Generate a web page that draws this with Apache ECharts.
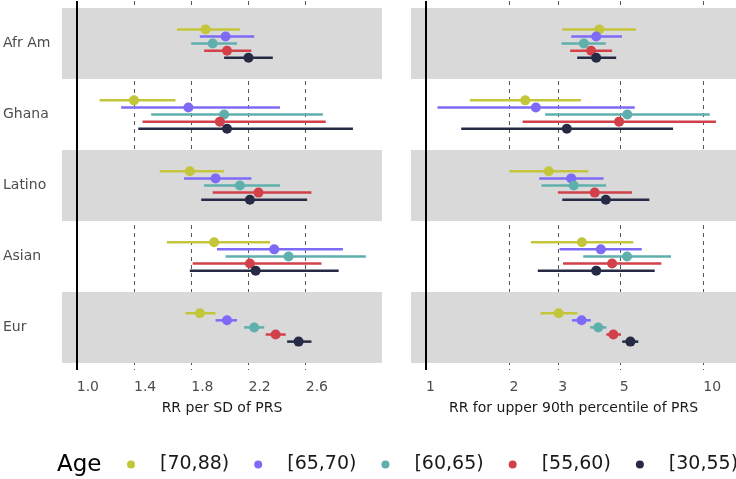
<!DOCTYPE html>
<html><head><meta charset="utf-8">
<script src="https://cdn.jsdelivr.net/npm/echarts@6/dist/echarts.min.js"></script>
<style>html,body{margin:0;padding:0;background:#fff}#c{width:736px;height:479px}</style>
</head><body><div id="c"></div>
<script>
// Categories
const groups = ['Afr Am', 'Ghana', 'Latino', 'Asian', 'Eur'];
const ages = ['[70,88)', '[65,70)', '[60,65)', '[55,60)', '[30,55)'];
// Tick labels
const sdTicks = [1.0, 1.4, 1.8, 2.2, 2.6];
const p90Ticks = [1, 2, 3, 5, 10];

// RR per SD of PRS (rows: age groups in order above; columns: groups in order above)
const sdEst = [
  [1.90, 1.40, 1.79, 1.96, 1.86],
  [2.04, 1.78, 1.97, 2.38, 2.05],
  [1.95, 2.03, 2.14, 2.48, 2.24],
  [2.05, 2.00, 2.27, 2.21, 2.39],
  [2.20, 2.05, 2.21, 2.25, 2.55]
];
const sdLo = [
  [1.70, 1.16, 1.58, 1.63, 1.76],
  [1.86, 1.31, 1.75, 1.98, 1.97],
  [1.80, 1.52, 1.89, 2.04, 2.17],
  [1.89, 1.46, 1.95, 1.81, 2.32],
  [2.03, 1.43, 1.87, 1.79, 2.47]
];
const sdHi = [
  [2.14, 1.69, 2.03, 2.35, 1.97],
  [2.24, 2.42, 2.22, 2.86, 2.12],
  [2.12, 2.72, 2.42, 3.02, 2.31],
  [2.22, 2.74, 2.64, 2.71, 2.46],
  [2.37, 2.93, 2.61, 2.83, 2.64]
];
// RR for upper 90th percentile of PRS
const p90Est = [
  [4.22, 2.28, 2.77, 3.65, 3.01],
  [4.11, 2.49, 3.34, 4.27, 3.64],
  [3.71, 5.32, 3.41, 5.31, 4.18],
  [3.94, 4.97, 4.06, 4.69, 4.74],
  [4.11, 3.22, 4.45, 4.11, 5.46]
];
const p90Lo = [
  [3.10, 1.44, 2.00, 2.39, 2.59],
  [3.34, 1.10, 2.56, 3.03, 3.36],
  [3.08, 2.69, 2.61, 3.69, 3.91],
  [3.31, 2.23, 2.99, 3.12, 4.47],
  [3.51, 1.34, 3.10, 2.53, 5.10]
];
const p90Hi = [
  [5.72, 3.62, 3.85, 5.59, 3.52],
  [5.09, 5.66, 4.37, 6.00, 3.93],
  [4.45, 10.55, 4.46, 7.65, 4.47],
  [4.69, 11.11, 5.53, 7.06, 5.05],
  [4.85, 7.78, 6.39, 6.68, 5.83]
];

const colors = ['#c3c63b', '#7d6bf7', '#5fafad', '#d2414a', '#262a45'];
const DODGE = 0.1;
const FONT = 'DejaVu Sans';

function rows(est, lo, hi, a) {
  return groups.map((g, gi) => [est[a][gi], lo[a][gi], hi[a][gi], gi + (a - 2) * DODGE]);
}
function renderItem(params, api) {
  const y = api.value(3);
  const p1 = api.coord([api.value(1), y]);
  const p2 = api.coord([api.value(2), y]);
  const pc = api.coord([api.value(0), y]);
  const color = api.visual('color');
  return {
    type: 'group',
    children: [
      { type: 'line', shape: { x1: p1[0], y1: p1[1], x2: p2[0], y2: p2[1] }, style: { stroke: color, lineWidth: 2.5 } },
      { type: 'circle', shape: { cx: pc[0], cy: pc[1], r: 5 }, style: { fill: color } }
    ]
  };
}
const bandData = [[{ yAxis: -0.5 }, { yAxis: 0.5 }], [{ yAxis: 1.5 }, { yAxis: 2.5 }], [{ yAxis: 3.5 }, { yAxis: 4.5 }]];
function bgSeries(idx, refVal) {
  return {
    type: 'custom', xAxisIndex: idx, yAxisIndex: idx, data: [], silent: true, z: 0,
    renderItem: () => null,
    markArea: { silent: true, itemStyle: { color: '#d9d9d9' }, data: bandData },
    markLine: { silent: true, symbol: 'none', label: { show: false },
      lineStyle: { color: '#000', width: 2, type: 'solid' }, data: [{ xAxis: refVal }] }
  };
}

const series = [bgSeries(0, 1), bgSeries(1, 1)];
ages.forEach((age, a) => {
  series.push({ type: 'custom', name: age, xAxisIndex: 0, yAxisIndex: 0, z: 5 + a,
    itemStyle: { color: colors[a] }, renderItem, encode: { x: [0, 1, 2], y: 3 },
    data: rows(sdEst, sdLo, sdHi, a) });
  series.push({ type: 'custom', name: age, xAxisIndex: 1, yAxisIndex: 1, z: 5 + a,
    itemStyle: { color: colors[a] }, renderItem, encode: { x: [0, 1, 2], y: 3 },
    data: rows(p90Est, p90Lo, p90Hi, a) });
});

const splitLine = { show: true, lineStyle: { color: '#555', width: 1, type: [4, 4] } };
const yBase = { type: 'value', min: -0.6, max: 4.6, inverse: true,
  axisLine: { show: false }, axisTick: { show: false }, splitLine: { show: false } };

const option = {
  animation: false,
  color: colors,
  textStyle: { fontFamily: FONT },
  grid: [
    { left: 62, top: 1, width: 320, height: 369 },
    { left: 411, top: 1, width: 325, height: 369 }
  ],
  xAxis: [
    { type: 'value', gridIndex: 0, min: 0.897, max: 3.133,
      axisLine: { show: false },
      axisTick: { show: false, customValues: sdTicks },
      axisLabel: { customValues: sdTicks, formatter: v => v.toFixed(1), align: 'left', margin: 10,
        fontSize: 14, color: '#4d4d4d', fontFamily: FONT },
      splitLine,
      name: 'RR per SD of PRS', nameLocation: 'middle', nameGap: 31,
      nameTextStyle: { fontSize: 14, color: '#1a1a1a', fontFamily: FONT } },
    { type: 'log', logBase: 10, gridIndex: 1, min: 0.883, max: 13.12,
      axisLine: { show: false },
      axisTick: { show: false, customValues: p90Ticks },
      axisLabel: { customValues: p90Ticks, formatter: v => String(Math.round(v)), align: 'left', margin: 10,
        fontSize: 14, color: '#4d4d4d', fontFamily: FONT },
      splitLine,
      name: 'RR for upper 90th percentile of PRS', nameLocation: 'middle', nameGap: 31,
      nameTextStyle: { fontSize: 14, color: '#1a1a1a', fontFamily: FONT } }
  ],
  yAxis: [
    Object.assign({}, yBase, { gridIndex: 0,
      axisLabel: { customValues: [0, 1, 2, 3, 4], formatter: v => groups[Math.round(v)], align: 'left',
        margin: 59, fontSize: 14, color: '#4d4d4d', fontFamily: FONT, padding: [3, 0, 0, 0] } }),
    Object.assign({}, yBase, { gridIndex: 1, axisLabel: { show: false } })
  ],
  legend: {
    data: ages, icon: 'circle', itemWidth: 8, itemHeight: 8, left: 127, top: 455, itemGap: 25,
    width: 640, padding: 0,
    textStyle: { fontSize: 19, color: '#1a1a1a', fontFamily: FONT, padding: [0, 0, 0, 20] }
  },
  graphic: [
    { type: 'text', left: 57, top: 454, style: { text: 'Age', fontSize: 23, fill: '#000', fontFamily: FONT } }
  ],
  series
};
echarts.init(document.getElementById('c'), null, { renderer: 'canvas' }).setOption(option);
</script></body></html>
